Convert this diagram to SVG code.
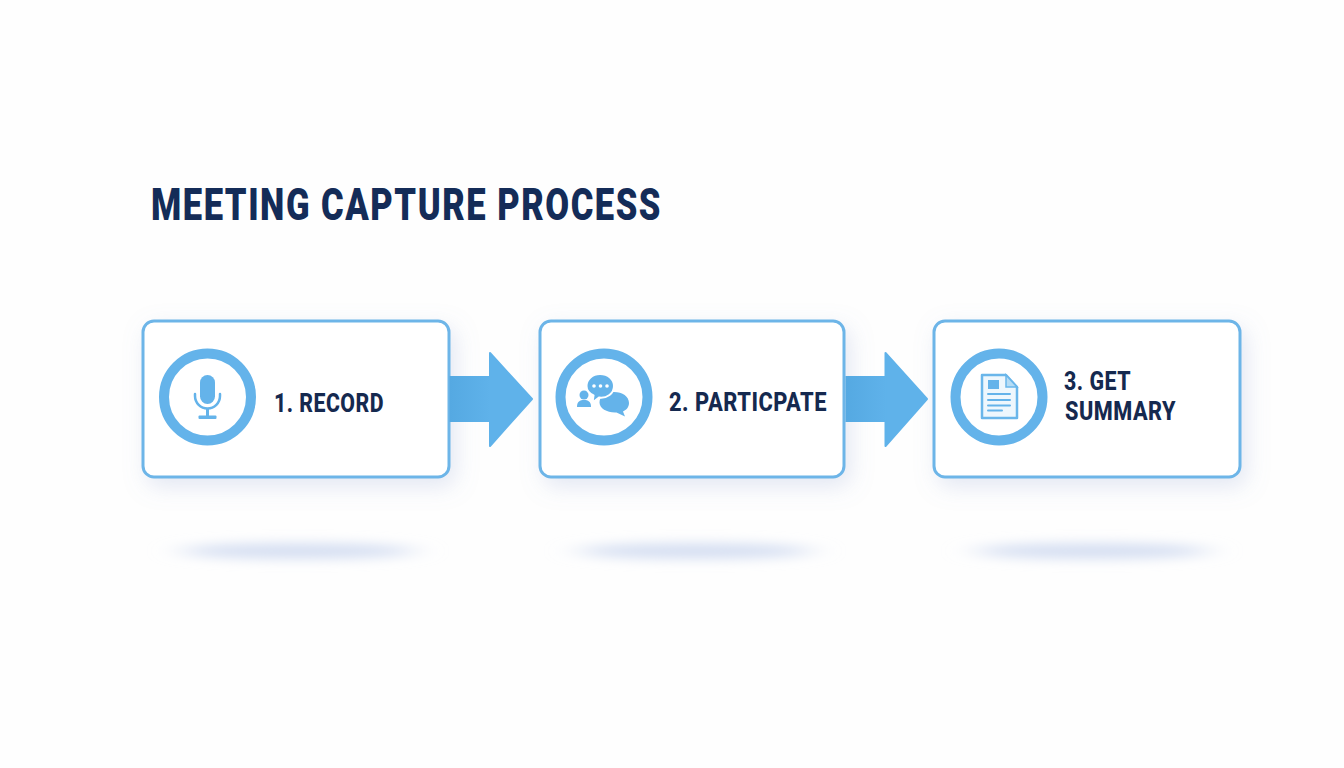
<svg xmlns="http://www.w3.org/2000/svg" width="1344" height="768" viewBox="0 0 1344 768">
<style>
.box{fill:#fff;stroke:#6db5e8;stroke-width:3}
.ring{fill:#fff;stroke:#64b3ea;stroke-width:10}
.ic{fill:#64b3ea}
.icl{fill:none;stroke:#64b3ea;stroke-linecap:round}
.lab{font-family:"Roboto","Liberation Sans",sans-serif;font-weight:800;font-size:26px;letter-spacing:.6px;fill:#15294f}
.title{font-family:"Roboto","Liberation Sans",sans-serif;font-weight:900;font-size:45px;letter-spacing:2px;fill:#142c58}
.arrow{fill:#5fb2ea}
</style>
<defs>
<filter id="sh" x="-20%" y="-30%" width="140%" height="170%"><feDropShadow dx="5" dy="8" stdDeviation="11" flood-color="#8fa3cf" flood-opacity=".25"/></filter>
<filter id="bl" x="-30%" y="-300%" width="160%" height="700%"><feGaussianBlur stdDeviation="16 6"/></filter>
<linearGradient id="shaft" gradientUnits="userSpaceOnUse" x1="450" x2="490" y1="0" y2="0"><stop offset="0" stop-color="#55a9e2"/><stop offset="1" stop-color="#5fb2ea"/></linearGradient>
<linearGradient id="shaft2" gradientUnits="userSpaceOnUse" x1="846" x2="886" y1="0" y2="0"><stop offset="0" stop-color="#55a9e2"/><stop offset="1" stop-color="#5fb2ea"/></linearGradient>
</defs>
<rect width="1344" height="768" fill="#fefefe"/>
<g id="floor-shadows" fill="#d6dff2">
<ellipse cx="298" cy="551" rx="118" ry="8" filter="url(#bl)"/>
<ellipse cx="695" cy="551" rx="118" ry="8" filter="url(#bl)"/>
<ellipse cx="1092" cy="551" rx="118" ry="8" filter="url(#bl)"/>
</g>
<text id="title" class="title" x="151" y="220" textLength="511" lengthAdjust="spacingAndGlyphs">MEETING CAPTURE PROCESS</text>
<g id="node-1">
<rect class="box" x="143" y="321" width="306" height="156" rx="11" filter="url(#sh)"/>
<circle class="ring" cx="207.5" cy="397" r="43.5"/>
<rect class="ic" x="200" y="375" width="15" height="29" rx="7.500"/>
<path class="icl" stroke-width="2.500" d="M195 394v2a12.500 12.500 0 0 0 25 0v-2"/>
<path class="ic" d="M206 409h3v8h-3z"/>
<rect class="ic" x="198.500" y="415.500" width="18" height="3.500" rx="1"/>
<text class="lab" x="274" y="412" textLength="110" lengthAdjust="spacingAndGlyphs">1. RECORD</text>
</g>
<g id="node-2">
<rect class="box" x="540" y="321" width="304" height="156" rx="11" filter="url(#sh)"/>
<circle class="ring" cx="604" cy="397" r="43.5"/>
<circle class="ic" cx="584" cy="395" r="4.500"/>
<path class="ic" d="M577 407c0-5.500 3-7 7-7s7 1.500 7 7z"/>
<path class="ic" d="M614 392c8.500 0 15 4.500 15 11 0 4-2.500 7-6 8.500l2 5-8.500-4c-9 .5-17-4-17-10 0-6 6-10.500 14.500-10.500z"/>
<path class="ic" stroke="#fff" stroke-width="2" d="M600 374c8 0 14 5 14 12 0 7.500-7 12.500-15 11.500l-6.500 5 1-7c-4-2-7-5.500-7-9.500 0-7 6-12 13.500-12z"/>
<circle cx="594" cy="386" r="1.800" fill="#fff"/><circle cx="600.500" cy="386" r="1.800" fill="#fff"/><circle cx="607" cy="386" r="1.800" fill="#fff"/>
<text class="lab" x="669" y="411" textLength="158" lengthAdjust="spacingAndGlyphs">2. PARTICPATE</text>
</g>
<g id="node-3">
<rect class="box" x="934" y="321" width="306" height="156" rx="11" filter="url(#sh)"/>
<circle class="ring" cx="999" cy="397" r="43.5"/>
<path d="M982 375h24l11 12v31h-35z" fill="#eef7fd" stroke="#6ab6ea" stroke-width="2.500" stroke-linejoin="round"/>
<path fill="#b5dcf5" stroke="#6ab6ea" stroke-width="1.500" d="M1006 375l11 12h-11z"/>
<rect class="ic" x="988" y="380" width="11" height="9"/>
<path class="icl" stroke-width="2" d="M988 394h22M988 400h22M988 405.500h22M988 410.500h14"/>
<text class="lab" x="1064" y="390" textLength="67" lengthAdjust="spacingAndGlyphs">3. GET</text>
<text class="lab" x="1065" y="420" textLength="111" lengthAdjust="spacingAndGlyphs">SUMMARY</text>
</g>
<g id="connectors">
<path fill="url(#shaft)" d="M449.500 376h41v46h-41z"/>
<path class="arrow" stroke="#5fb2ea" stroke-width="2" stroke-linejoin="round" d="M490 376v-23l42 46-42 47v-24z"/>
<path fill="url(#shaft2)" d="M845.500 376h40.500v46h-40.500z"/>
<path class="arrow" stroke="#5fb2ea" stroke-width="2" stroke-linejoin="round" d="M885.500 376v-23l41.500 46-41.500 47v-24z"/>
</g>
</svg>
